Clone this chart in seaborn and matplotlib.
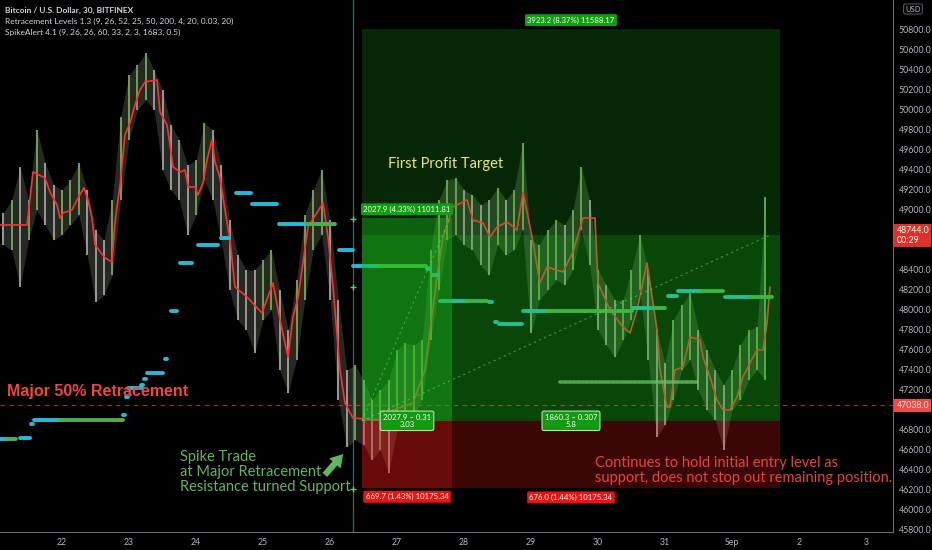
import numpy as np
import matplotlib
matplotlib.use('Agg')
import matplotlib.pyplot as plt
import seaborn as sns
from matplotlib.patches import Rectangle

# x values are days of month (Aug), Sep 1 = 32
# BTC/USD bars, one every 3 hours
bar_start = 21.125
bar_step = 0.125
bar_high = [48966, 49097, 49427, 49097, 49798, 49467, 49247, 49197, 49297, 49467,
            49197, 48796, 48696, 49097, 49928, 50349, 50449, 50570, 50399, 50199,
            49848, 49698, 49447, 49497, 49868, 49798, 49447, 48896, 48546, 48395,
            48395, 48496, 48596, 48195, 47794, 48295, 48946, 49197, 49397, 48896,
            48095, 47393, 47443, 47293, 47093, 47193, 47293, 47594, 47664, 47644,
            47694, 48596, 49097, 49297, 49317, 49197, 49147, 49047, 49097, 49217,
            49097, 49197, 49668, 48696, 48646, 48796, 48896, 48846, 48996, 49427,
            49097, 48395, 48245, 48095, 48095, 48395, 48746, 48395, 47794, 47463,
            47894, 48045, 48165, 47794, 47594, 47393, 47243, 47393, 47644, 47794,
            47824, 49127]
bar_low = [48646, 48596, 48225, 48696, 48996, 48846, 48696, 48746, 48846, 48946,
           48546, 48075, 48145, 48345, 49097, 49698, 49998, 50099, 49998, 49397,
           49197, 49097, 48746, 48946, 49297, 49097, 48696, 48195, 47894, 47794,
           47563, 47894, 47994, 47393, 47163, 47493, 48095, 48596, 48746, 48095,
           47093, 46622, 46692, 46642, 46492, 46592, 46361, 46792, 46892, 46942,
           47093, 47694, 48195, 48696, 48746, 48646, 48596, 48445, 48345, 48646,
           48546, 48596, 48796, 47764, 48095, 48195, 48295, 48245, 48395, 48796,
           48445, 47794, 47643, 47523, 47694, 47894, 48195, 47493, 46722, 46842,
           47093, 47393, 47493, 47193, 46992, 46892, 46592, 46992, 47093, 47293,
           47393, 47293]

# red trailing line (SpikeAlert)
line_day = [21.075, 21.478, 21.567, 21.746, 21.821, 21.925, 21.970, 22.015, 22.149, 22.239,
            22.328, 22.388, 22.448, 22.493, 22.642, 22.746, 22.791, 22.866, 22.940, 23.015,
            23.075, 23.164, 23.239, 23.418, 23.463, 23.567, 23.612, 23.657, 23.761, 23.836,
            23.881, 23.985, 24.030, 24.105, 24.164, 24.239, 24.284, 24.358, 24.433, 24.507,
            24.582, 24.761, 24.985, 25.149, 25.254, 25.373, 25.448, 25.522, 25.672, 25.896,
            25.970, 26.045, 26.149, 26.224, 26.343, 26.746, 26.940, 27.239, 27.418, 27.493,
            27.612, 27.687, 27.836, 28.045, 28.134, 28.284, 28.388, 28.493, 28.642, 28.791,
            28.881, 29.015, 29.134, 29.239, 29.478, 29.627, 29.776, 29.955, 30.000, 30.179,
            30.373, 30.478, 30.582, 30.731, 30.881, 30.925, 31.030, 31.075, 31.149, 31.269,
            31.373, 31.522, 31.567, 31.672, 31.776, 31.866, 31.970, 32.075, 32.164, 32.269,
            32.373, 32.463, 32.522, 32.567]
line_price = [48846, 48846, 49377, 49317, 49177, 49047, 48916, 48966, 48996, 49117,
              49217, 49097, 48916, 48646, 48516, 48476, 48876, 49247, 49748, 49868,
              50018, 50199, 50279, 50299, 49978, 49848, 49648, 49427, 49377, 49397,
              49227, 49227, 49147, 49267, 49497, 49698, 49477, 49317, 48996, 48696,
              48225, 48125, 47964, 48265, 47894, 47523, 47924, 48115, 48826, 49067,
              48726, 48225, 47393, 47062, 46912, 46892, 46992, 47062, 47393, 47794,
              48395, 48726, 49027, 49097, 48896, 48866, 48726, 48826, 48876, 48796,
              49177, 48726, 48265, 48425, 48375, 48576, 48916, 48916, 48265, 47994,
              47824, 47764, 47994, 48465, 47794, 47393, 47022, 47022, 47393, 47423,
              47724, 47694, 47523, 47323, 47093, 46992, 46992, 47123, 47323, 47463,
              47594, 47594, 47864, 48225]

# retracement levels: start, colour change, end, price
seg_start = [21.075, 21.373, 21.537, 21.582, 22.910, 22.955, 22.985, 23.179, 23.224, 23.269,
             23.537, 23.627, 23.761, 24.030, 24.373, 24.597, 24.836, 25.239, 26.134, 26.343,
             27.448, 27.537, 27.642, 28.373, 28.463, 28.522, 28.881, 30.522, 31.045, 31.194,
             31.896]
seg_split = [21.179, 21.522, 21.567, 21.970, 22.940, 22.985, 23.194, 23.209, 23.254, 23.507,
             23.567, 23.716, 23.940, 24.328, 24.493, 24.821, 25.209, 25.657, 26.343, 26.746,
             27.493, 27.597, 28.045, 28.418, 28.493, 28.866, 29.254, 30.821, 31.179, 31.567,
             32.269]
seg_end = [21.313, 21.522, 21.567, 22.910, 22.940, 22.985, 23.194, 23.209, 23.254, 23.507,
           23.567, 23.716, 23.940, 24.328, 24.493, 24.821, 25.209, 26.075, 26.343, 27.433,
           27.493, 27.597, 28.343, 28.418, 28.493, 28.866, 30.507, 31.000, 31.179, 31.866,
           32.597]
seg_price = [46702, 46712, 46852, 46892, 46942, 47123, 47213, 47243, 47303, 47363,
             47503, 47984, 48465, 48646, 48716, 49167, 49057, 48856, 48596, 48435,
             48405, 48345, 48085, 48075, 47874, 47854, 47984, 48014, 48135, 48185,
             48125]

# long position tools
pos_start = [26.478, 26.478]
pos_end = [27.821, 32.716]
pos_entry = [46884, 46884]
pos_target = [48912, 50807]
pos_stop = [46214, 46208]
pos_fill = [48912, 48744]
pos_top_text = ['2027.9 (4.33%) 11011.81', '3923.2 (8.37%) 11588.17']
pos_bottom_text = ['669.7 (1.43%) 10175.34', '676.0 (1.44%) 10175.34']
pos_mid_text = ['2027.9 ~ 0.31\n3.03', '1860.3 ~ 0.307\n5.8']
pos_diag_end = [27.79, 32.567]
pos_diag_price = [48912, 48744]

last_price = 48744
retrace_price = 47038
dotted_level = [29.433, 31.478, 47273]
session_day = 26.343
handle_price = [48906, 48225, 46201]

day_ticks = list(range(22, 35))
day_labels = ['22', '23', '24', '25', '26', '27', '28', '29', '30', '31', 'Sep', '2', '3']
price_ticks = list(range(45800, 50801, 200))
# scale labels hidden under the price tags on the right
hidden_ticks = [48800, 48600, 47000]

legend_lines = ['Bitcoin / U.S. Dollar, 30, BITFINEX',
                'Retracement Levels 1.3 (9, 26, 52, 25, 50, 200, 4, 20, 0.03, 20)',
                'SpikeAlert 4.1 (9, 26, 26, 60, 33, 2, 3, 1683, 0.5)']

sns.set_style('dark')
plt.rcParams['font.family'] = ['Lato', 'DejaVu Sans']

BG = '#000000'
AXC = '#b2b5be'
CYAN = '#22bcd8'
GREEN = '#4caf50'

fig = plt.figure(figsize=(9.32, 5.5), dpi=100, facecolor=BG)
ax = fig.add_axes([0, 18 / 550, 893 / 932, 532 / 550])
ax.set_facecolor(BG)

bar_day = bar_start + bar_step * np.arange(len(bar_high))
bar_high = np.array(bar_high)
bar_low = np.array(bar_low)

# price bars: soft high/low band plus one line per bar
ax.fill_between(bar_day, bar_low, bar_high, color='#6f7866', alpha=0.35, lw=0, zorder=2)
mids = (bar_high + bar_low) / 2
bar_cols = ['#73a04e' if i > 0 and mids[i] >= mids[i - 1] else '#9a9a94' for i in range(len(mids))]
ax.vlines(bar_day, bar_low, bar_high, colors=bar_cols, lw=1.4, zorder=2.2)

# trailing line
sns.lineplot(x=line_day, y=line_price, ax=ax, color='#ff2e2e', lw=1.2, estimator=None,
             sort=False, zorder=3)

# retracement segments
for s, sp, e, p in zip(seg_start, seg_split, seg_end, seg_price):
    ax.plot([s, sp], [p, p], color=CYAN, lw=2.8, solid_capstyle='round', zorder=3.2)
    if e > sp:
        ax.plot([sp, e], [p, p], color=GREEN, lw=2.8, solid_capstyle='round', zorder=3.2)

ax.plot(dotted_level[:2], [dotted_level[2]] * 2, color='#9abf9a', lw=2.6,
        linestyle=(0, (0.6, 0.6)), dash_capstyle='round', alpha=0.75, zorder=3.2)

# 50% retracement dashed line
ax.axhline(retrace_price, color='#f23645', lw=0.8, ls=(0, (4, 4)), alpha=0.7, zorder=2.5)
ax.axvline(session_day, color='#2a8f72', lw=0.9, alpha=0.8, zorder=3)
ax.plot([session_day] * 3, handle_price, ls='none', marker='+', ms=5, mew=1,
        color='#6cc46c', zorder=6)

# position tools
for i in range(2):
    w = pos_end[i] - pos_start[i]
    ax.add_patch(Rectangle((pos_start[i], pos_entry[i]), w, pos_target[i] - pos_entry[i],
                           facecolor='#1ec81e', alpha=0.2, lw=0, zorder=4))
    ax.add_patch(Rectangle((pos_start[i], pos_entry[i]), w, pos_fill[i] - pos_entry[i],
                           facecolor='#1ec81e', alpha=0.2, lw=0, zorder=4))
    ax.add_patch(Rectangle((pos_start[i], pos_stop[i]), w, pos_entry[i] - pos_stop[i],
                           facecolor='#ff1a1a', alpha=0.23, lw=0, zorder=4))
    ax.plot([pos_start[i], pos_diag_end[i]], [pos_entry[i], pos_diag_price[i]],
            color='#7fd87f', lw=0.8, ls=(0, (2, 3)), alpha=0.5, zorder=4.5)
    mid = pos_start[i] + w / 2
    ax.annotate(pos_top_text[i], (mid, pos_target[i]), xytext=(0, 4), textcoords='offset points',
                ha='center', va='bottom', fontsize=5.6, color='white', zorder=7,
                bbox=dict(boxstyle='round,pad=0.3,rounding_size=0.15', fc='#0e9e0e', ec='none'))
    ax.annotate(pos_bottom_text[i], (mid, pos_stop[i]), xytext=(0, -4), textcoords='offset points',
                ha='center', va='top', fontsize=5.6, color='white', zorder=7,
                bbox=dict(boxstyle='round,pad=0.3,rounding_size=0.15', fc='#ee1111', ec='none'))
    ax.text(mid, pos_entry[i], pos_mid_text[i], ha='center', va='center', fontsize=5.6,
            color='white', linespacing=1.0, zorder=7,
            bbox=dict(boxstyle='round,pad=0.35,rounding_size=0.25', fc='#129a12', ec='#b8e0a8', lw=0.8))

# annotations
ax.text(21.18, 47178, 'Major 50% Retracement', fontsize=11.5, fontweight='bold',
        color='#ef473d', family=['Liberation Sans', 'DejaVu Sans'], ha='left', va='center', zorder=8)
ax.text(23.761, 46371, 'Spike Trade\nat Major Retracement\nResistance turned Support',
        fontsize=10.5, color='#5cb85c', ha='left', va='center', linespacing=1.05, zorder=8)
ax.annotate('', xy=(26.224, 46572), xytext=(25.896, 46321), zorder=8,
            arrowprops=dict(arrowstyle='simple,head_width=1.1,head_length=0.9,tail_width=0.45',
                            color='#5cb85c', lw=0))
ax.text(26.866, 49457, 'First Profit Target', fontsize=10.5, color='#ecec5a',
        ha='left', va='center', zorder=8)
ax.text(29.955, 46386, 'Continues to hold initial entry level as\nsupport, does not stop out remaining position.',
        fontsize=10.5, color='#e8433a', ha='left', va='center', linespacing=1.05, zorder=8)

# axes
ax.set_xlim(21.0746, 34.403)
ax.set_ylim(45770, 51100)
ax.yaxis.tick_right()
ax.set_yticks(price_ticks)
ax.set_yticklabels(['' if v in hidden_ticks else f'{v:.1f}' for v in price_ticks])
ax.set_xticks(day_ticks)
ax.set_xticklabels(day_labels)
ax.tick_params(axis='y', length=0, pad=4, labelsize=6.3, labelcolor=AXC)
ax.tick_params(axis='x', length=0, pad=4, labelsize=6.3, labelcolor=AXC)
ax.grid(False)
for side in ['top', 'left']:
    ax.spines[side].set_visible(False)
for side in ['right', 'bottom']:
    ax.spines[side].set_visible(True)
    ax.spines[side].set_color('#6a6d78')
    ax.spines[side].set_linewidth(0.8)
ax.set_xlabel('')
ax.set_ylabel('')

# price scale tags
ax.annotate(f'{last_price:.1f}\n00:29', (1, last_price), xycoords=('axes fraction', 'data'),
            xytext=(2.5, 0), textcoords='offset points', ha='left', va='center', fontsize=6.3,
            color='white', linespacing=1.1, annotation_clip=False, zorder=9,
            bbox=dict(boxstyle='square,pad=0.25', fc='#e0302a', ec='none'))
ax.annotate(f'{retrace_price:.1f}', (1, retrace_price), xycoords=('axes fraction', 'data'),
            xytext=(2.5, 0), textcoords='offset points', ha='left', va='center', fontsize=6.3,
            color='#ffe0e0', annotation_clip=False, zorder=9,
            bbox=dict(boxstyle='square,pad=0.25', fc='#ef4a44', ec='none'))
fig.text(913 / 932, 1 - 9 / 550, 'USD', fontsize=5.5, color=AXC, ha='center', va='center',
         bbox=dict(boxstyle='round,pad=0.2', fc=BG, ec='#6a6d78', lw=0.6))

# indicator legend
for k, line in enumerate(legend_lines):
    fig.text(5 / 932, 1 - (10.7 + 11 * k) / 550, line, fontsize=6,
             fontweight='bold' if k == 0 else 'normal', color='#d1d4dc', ha='left', va='center')

fig.savefig('out.png', dpi=100, facecolor=BG)
